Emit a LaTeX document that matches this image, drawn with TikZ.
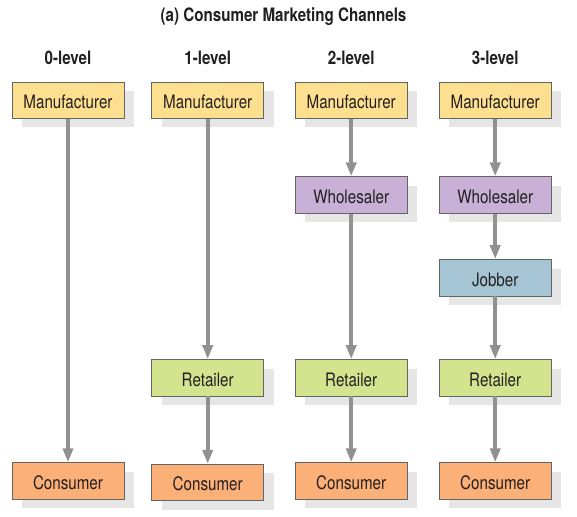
\documentclass[tikz,border=0pt]{standalone}
\usepackage{fontspec}
\setmainfont{TeX Gyre Heros}[FakeStretch=0.82]
\usetikzlibrary{arrows.meta,shadows}
\definecolor{manuf}{RGB}{253,224,143}
\definecolor{whole}{RGB}{201,176,214}
\definecolor{jobb}{RGB}{165,197,212}
\definecolor{retail}{RGB}{212,227,142}
\definecolor{consum}{RGB}{251,176,120}
\definecolor{edgegray}{RGB}{100,100,100}
\definecolor{arrgray}{RGB}{145,145,145}
\definecolor{shadowgray}{RGB}{230,230,230}
\definecolor{txt}{RGB}{35,31,32}
\tikzset{
  chbox/.style={draw=edgegray, line width=0.8pt, minimum width=112pt, minimum height=36.5pt,
    inner sep=0pt, text height=16.5pt, text depth=0pt, font=\fontsize{18.5}{22}\selectfont, text=txt,
    drop shadow={shadow xshift=10pt, shadow yshift=-9pt, fill=shadowgray, opacity=1}},
  mbox/.style={chbox, fill=manuf},
  wbox/.style={chbox, fill=whole},
  jbox/.style={chbox, fill=jobb},
  rbox/.style={chbox, fill=retail},
  cbox/.style={chbox, fill=consum},
  lvl/.style={font=\bfseries\fontsize{18.5}{22}\selectfont, text=txt, inner sep=0pt},
  arr/.style={draw=arrgray, line width=4pt, -{Triangle[width=10pt,length=14pt]}, arrgray}
}
\begin{document}
\begin{tikzpicture}[x=1pt,y=-1pt]
\useasboundingbox (0,0) rectangle (577,516);
\node[lvl] (title) at (283.5,16.5) {(a) Consumer Marketing Channels};
\node[lvl] (l0) at (68,58) {0-level};
\node[lvl] (l1) at (207.7,58) {1-level};
\node[lvl] (l2) at (351.2,58) {2-level};
\node[lvl] (l3) at (495.2,58) {3-level};
% column 0
\node[mbox] (m0) at (68,100.2) {Manufacturer};
\node[cbox] (c0) at (68,481) {Consumer};
% column 1
\node[mbox] (m1) at (207.7,100.2) {Manufacturer};
\node[rbox] (r1) at (207.7,377.8) {Retailer};
\node[cbox] (c1) at (207.7,482.5) {Consumer};
% column 2
\node[mbox] (m2) at (351.2,100.2) {Manufacturer};
\node[wbox] (w2) at (351.2,195) {Wholesaler};
\node[rbox] (r2) at (351.2,377.8) {Retailer};
\node[cbox] (c2) at (351.2,481) {Consumer};
% column 3
\node[mbox] (m3) at (495.2,100.2) {Manufacturer};
\node[wbox] (w3) at (495.2,195) {Wholesaler};
\node[jbox] (j3) at (495.2,277.8) {Jobber};
\node[rbox] (r3) at (495.2,377.8) {Retailer};
\node[cbox] (c3) at (495.2,481) {Consumer};
% arrows
\draw[arr] (m0) -- (c0);
\draw[arr] (m1) -- (r1);
\draw[arr] (r1) -- (c1);
\draw[arr] (m2) -- (w2);
\draw[arr] (w2) -- (r2);
\draw[arr] (r2) -- (c2);
\draw[arr] (m3) -- (w3);
\draw[arr] (w3) -- (j3);
\draw[arr] (j3) -- (r3);
\draw[arr] (r3) -- (c3);
\end{tikzpicture}
\end{document}
